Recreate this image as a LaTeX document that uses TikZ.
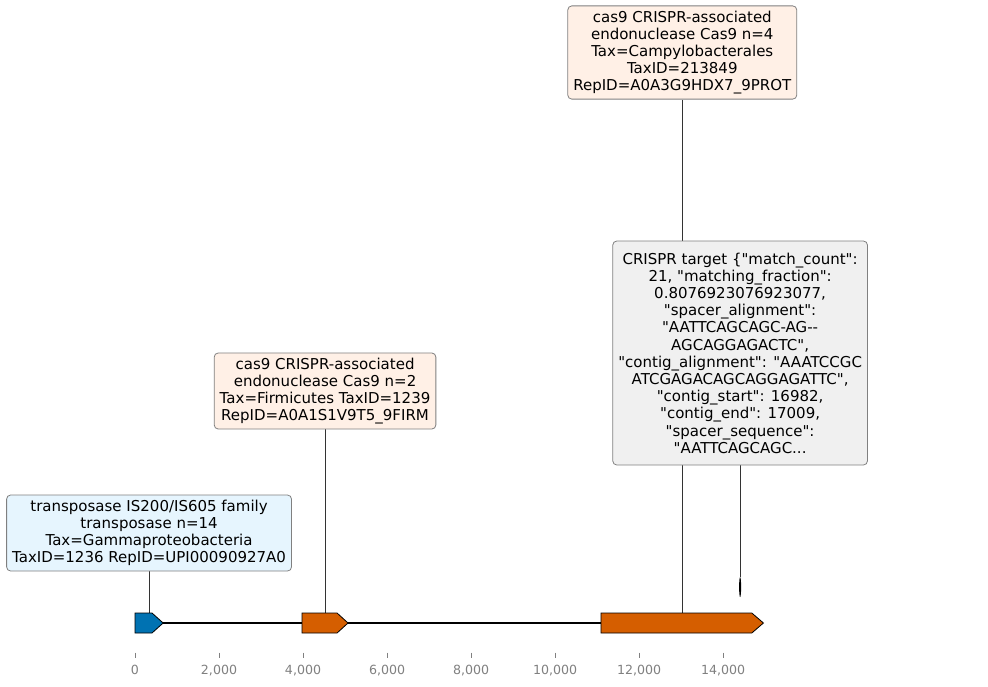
\documentclass[tikz,border=0pt]{standalone}
\usepackage{fontspec}
\setmainfont{DejaVu Sans}[Ligatures=TeXOff]
\usetikzlibrary{backgrounds}

\definecolor{geneblue}{HTML}{0072B2}
\definecolor{geneorange}{HTML}{D55E00}
\definecolor{boxblue}{HTML}{E6F5FE}
\definecolor{boxpeach}{HTML}{FFF0E6}
\definecolor{boxgray}{HTML}{F0F0F0}
\definecolor{axisgray}{HTML}{808080}

\tikzset{
    lbl/.style={draw=axisgray, rounded corners=4pt, align=center, inner xsep=5.5pt, inner ysep=4.75pt,
        line width=0.8pt, font=\fontsize{15}{17.2}\selectfont},
    leader/.style={line width=0.7pt, black!80},
    gene/.style={draw=black, line width=0.8pt},
    ticklbl/.style={text=axisgray, anchor=base, inner sep=0pt, font=\fontsize{12.6}{15}\selectfont},
}

\begin{document}
\begin{tikzpicture}[x=0.042pt, y=-1pt]
    % one unit along x = 1 bp, y measured downwards
    \useasboundingbox (-135pt,0pt) rectangle (853pt,-686pt);

    % ==========================================
    % Contig backbone and features
    % ==========================================
    \draw[line width=1.6pt] (0,623) -- (14960,623);

    % transposase (blue)
    \draw[gene, fill=geneblue] (0,613) -- (405,613) -- (670,623) -- (405,633) -- (0,633) -- cycle;
    \coordinate (g1) at (335,613);

    % cas9 n=2
    \draw[gene, fill=geneorange] (3976,613) -- (4810,613) -- (5071,623) -- (4810,633) -- (3976,633) -- cycle;
    \coordinate (g2) at (4524,613);

    % cas9 n=4
    \draw[gene, fill=geneorange] (11095,613) -- (14683,613) -- (14960,623) -- (14683,633) -- (11095,633) -- cycle;
    \coordinate (g3) at (13028,613);

    % CRISPR target (tiny feature)
    \fill (14405,587) ellipse [x radius=1pt, y radius=10pt];
    \coordinate (g4) at (14405,577);

    % ==========================================
    % Axis ticks
    % ==========================================
    \foreach \t/\lab in {0/0, 2000/{2,000}, 4000/{4,000}, 6000/{6,000}, 8000/{8,000},
                         10000/{10,000}, 12000/{12,000}, 14000/{14,000}} {
        \draw[axisgray, line width=0.8pt] (\t,652.5) -- (\t,657.5);
        \node[ticklbl] (tick\t) at (\t,674.3) {\lab};
    }

    % ==========================================
    % Labels
    % ==========================================
    \node[lbl, fill=boxblue, minimum height=76pt] (trans) at (335,533)
        {transposase IS200/IS605 family\\ transposase n=14\\ Tax=Gammaproteobacteria\\ TaxID=1236 RepID=UPI00090927A0};

    \node[lbl, fill=boxpeach, minimum height=76pt] (casA) at (4524,391)
        {cas9 CRISPR-associated\\ endonuclease Cas9 n=2\\ Tax=Firmicutes TaxID=1239\\ RepID=A0A1S1V9T5\_9FIRM};

    \node[lbl, fill=boxpeach, minimum height=93pt] (casB) at (13028,52.5)
        {cas9 CRISPR-associated\\ endonuclease Cas9 n=4\\ Tax=Campylobacterales\\ TaxID=213849\\ RepID=A0A3G9HDX7\_9PROT};

    \node[lbl, fill=boxgray, minimum height=224pt] (crispr) at (14405,353)
        {CRISPR target \{"match\_count":\\ 21, "matching\_fraction":\\ 0.8076923076923077,\\
         "spacer\_alignment":\\ "AATTCAGCAGC-AG-{}-\\ AGCAGGAGACTC",\\
         "contig\_alignment": "AAATCCGC\\ ATCGAGACAGCAGGAGATTC",\\
         "contig\_start": 16982,\\ "contig\_end": 17009,\\ "spacer\_sequence":\\ "AATTCAGCAGC...};

    % leader lines, behind the boxes
    \begin{pgfonlayer}{background}
        \draw[leader] (trans.south) -- (g1);
        \draw[leader] (casA.south) -- (g2);
        \draw[leader] (casB.south) -- (g3);
        \draw[leader] (crispr.south) -- (g4);
    \end{pgfonlayer}
\end{tikzpicture}
\end{document}
